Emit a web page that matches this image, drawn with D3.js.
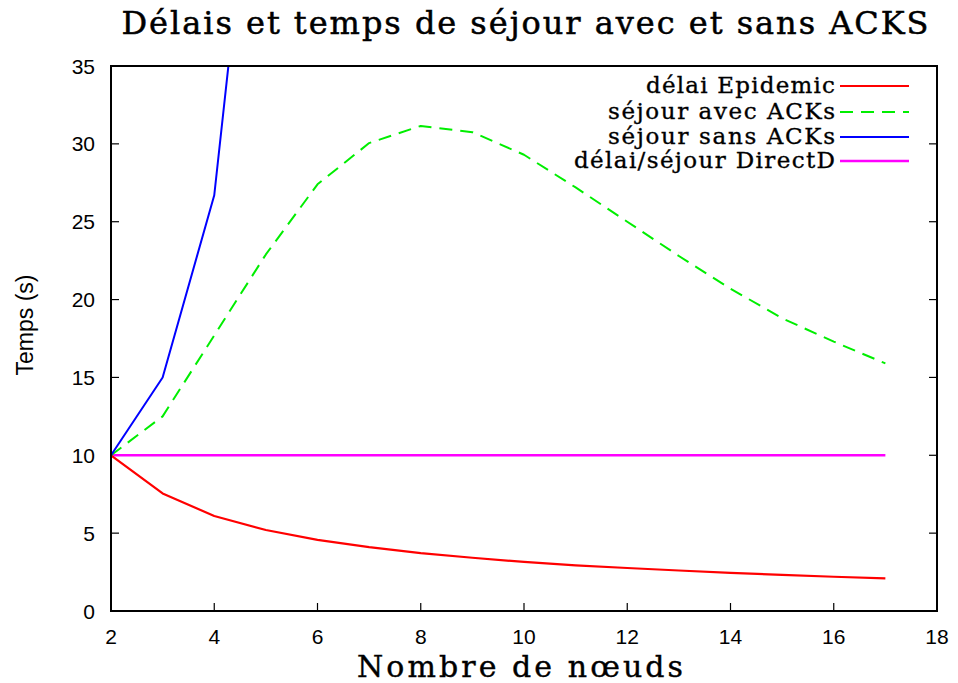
<!DOCTYPE html>
<html><head><meta charset="utf-8">
<script src="https://cdn.jsdelivr.net/npm/d3@7"></script>
<style>body{margin:0;background:#fff}svg{display:block}</style>
</head><body>
<svg id="c" width="958" height="683"></svg>
<script>
const xNodes = [2,3,4,5,6,7,8,9,10,11,12,13,14,15,16,17];
const delaiEpidemic = [10,7.55,6.1,5.2,4.57,4.1,3.72,3.42,3.15,2.93,2.76,2.6,2.45,2.32,2.2,2.1];
const sejourAvecACKs = [10,12.5,17.7,22.9,27.4,30.05,31.15,30.75,29.3,27.2,25.0,22.8,20.7,18.8,17.3,15.9];
const xSansACKs = [2,3,4,5];
const sejourSansACKs = [10,15.0,26.7,57];
const delaiDirectD = [10,10,10,10,10,10,10,10,10,10,10,10,10,10,10,10];
const xTicks = [2,4,6,8,10,12,14,16,18];
const yTicks = [0,5,10,15,20,25,30,35];
const seriesNames = ["délai Epidemic","séjour avec ACKs","séjour sans ACKs","délai/séjour DirectD"];
const seriesColors = ["#ff0000","#00ee00","#0000ff","#ff00ff"];
const title = "Délais et temps de séjour avec et sans ACKS";
const xLabel = "Nombre de nœuds";
const yLabel = "Temps (s)";

const svg = d3.select("#c");
const L=111,R=937,T=66,B=611;
const x = d3.scaleLinear().domain([2,18]).range([L,R]);
const y = d3.scaleLinear().domain([0,35]).range([B,T]);
const serif = "'DejaVu Serif', serif";
const sans = "'Liberation Sans', Arial, sans-serif";

svg.append("defs").append("clipPath").attr("id","clip")
  .append("rect").attr("x",L).attr("y",T).attr("width",R-L).attr("height",B-T);

// ticks
const tickLen = 8;
const g = svg.append("g");
xTicks.forEach(v=>{
  g.append("line").attr("x1",x(v)).attr("x2",x(v)).attr("y1",B).attr("y2",B-tickLen).attr("stroke","#000").attr("stroke-width",1.2);
  g.append("text").attr("x",x(v)).attr("y",644).attr("text-anchor","middle")
   .attr("font-family",sans).attr("font-size",21).text(v);
});
yTicks.forEach(v=>{
  g.append("line").attr("x1",L).attr("x2",L+tickLen).attr("y1",y(v)).attr("y2",y(v)).attr("stroke","#000").attr("stroke-width",1.2);
  g.append("line").attr("x1",R).attr("x2",R-tickLen).attr("y1",y(v)).attr("y2",y(v)).attr("stroke","#000").attr("stroke-width",1.2);
  g.append("text").attr("x",95).attr("y",y(v)+7.5).attr("text-anchor","end")
   .attr("font-family",sans).attr("font-size",21).text(v);
});

// lines
const plot = svg.append("g").attr("clip-path","url(#clip)");
const line = d3.line().x(d=>x(d[0])).y(d=>y(d[1]));
const data = [
  xNodes.map((v,i)=>[v,delaiEpidemic[i]]),
  xNodes.map((v,i)=>[v,sejourAvecACKs[i]]),
  xSansACKs.map((v,i)=>[v,sejourSansACKs[i]]),
  xNodes.map((v,i)=>[v,delaiDirectD[i]])
];
const dashes = [null,"13,8",null,null];
const widths = [2.2,2,2,2.6];
[3,0,1,2].forEach(i=>{
  plot.append("path").attr("d",line(data[i])).attr("fill","none")
    .attr("stroke",seriesColors[i]).attr("stroke-width",widths[i])
    .attr("stroke-dasharray",dashes[i]).attr("stroke-linejoin","round");
});

// frame
svg.append("rect").attr("x",L).attr("y",T).attr("width",R-L).attr("height",B-T)
  .attr("fill","none").attr("stroke","#000").attr("stroke-width",2);

// legend
const legY = [86,112,137,161];
const legW = [189,227,227,261];
seriesNames.forEach((n,i)=>{
  svg.append("text").attr("x",835).attr("y",legY[i]+7).attr("text-anchor","end")
    .attr("font-family",serif).attr("font-size",23)
    .attr("stroke","#000").attr("stroke-width",0.35)
    .attr("textLength",legW[i]).attr("lengthAdjust","spacing").text(n);
  svg.append("line").attr("x1",840).attr("x2",909).attr("y1",legY[i]).attr("y2",legY[i])
    .attr("stroke",seriesColors[i]).attr("stroke-width",widths[i]).attr("stroke-dasharray",dashes[i]);
});

// title and labels
svg.append("text").attr("x",525).attr("y",34).attr("text-anchor","middle")
  .attr("font-family",serif).attr("font-size",32)
  .attr("stroke","#000").attr("stroke-width",0.5)
  .attr("textLength",807).attr("lengthAdjust","spacing").text(title);
svg.append("text").attr("x",520).attr("y",677).attr("text-anchor","middle")
  .attr("font-family",serif).attr("font-size",30)
  .attr("stroke","#000").attr("stroke-width",0.4)
  .attr("textLength",326).attr("lengthAdjust","spacing").text(xLabel);
svg.append("text").attr("transform","translate(33,325) rotate(-90)").attr("text-anchor","middle")
  .attr("font-family",sans).attr("font-size",23).text(yLabel);
</script>
</body></html>
